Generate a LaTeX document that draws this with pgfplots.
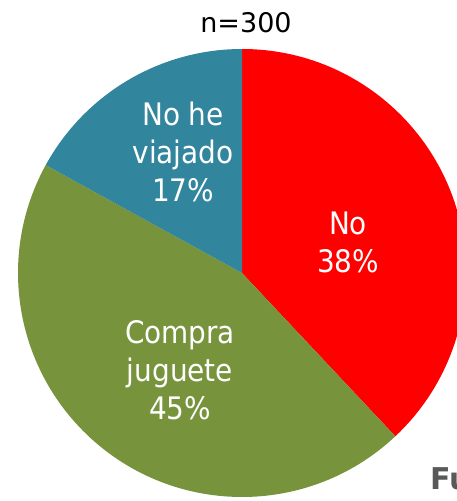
\documentclass[border=0pt]{standalone}
\usepackage{pgfplots}
\pgfplotsset{compat=1.18}
\usepackage{pgfplotstable}
\usepackage{fontspec}
\setmainfont{DejaVu Sans}
\newfontfamily\condfont{DejaVu Sans Condensed}
\definecolor{cNo}{HTML}{FF0000}
\definecolor{cCompra}{HTML}{77933C}
\definecolor{cViaje}{HTML}{31859C}
\definecolor{cFu}{HTML}{595959}
\pgfplotstableread{
label value
No 38
Compra 45
Viaje 17
}\piedata
\begin{document}
\begin{tikzpicture}
\useasboundingbox (0,0) rectangle (457pt,501pt);
\pgfplotstablegetelem{0}{value}\of\piedata \let\vA\pgfplotsretval
\pgfplotstablegetelem{1}{value}\of\piedata \let\vB\pgfplotsretval
\pgfplotstablegetelem{2}{value}\of\piedata \let\vC\pgfplotsretval
\pgfmathsetmacro{\aA}{90}
\pgfmathsetmacro{\aB}{90-3.6*\vA}
\pgfmathsetmacro{\aC}{\aB-3.6*\vB}
\pgfmathsetmacro{\aD}{\aC-3.6*\vC}
\begin{axis}[hide axis, scale only axis, width=457pt, height=501pt,
  xmin=0, xmax=457, ymin=0, ymax=501, anchor=south west, at={(0,0)}, clip=true]
\def\R{224pt}
\fill[cNo] (axis cs:242,228) -- ++(\aA:\R) arc[start angle=\aA, end angle=\aB, radius=\R] -- cycle;
\fill[cCompra] (axis cs:242,228) -- ++(\aB:\R) arc[start angle=\aB, end angle=\aC, radius=\R] -- cycle;
\fill[cViaje] (axis cs:242,228) -- ++(\aC:\R) arc[start angle=\aC, end angle=\aD, radius=\R] -- cycle;
\node[font=\fontsize{27}{30}\selectfont, text=black] at (axis cs:246,478) {n=300};
\node[font=\condfont\fontsize{31}{38}\selectfont, text=white, align=center] at (axis cs:183,349) {No he\\viajado\\17\%};
\node[font=\condfont\fontsize{31}{38}\selectfont, text=white, align=center] at (axis cs:348,259) {No\\38\%};
\node[font=\condfont\fontsize{31}{38}\selectfont, text=white, align=center] at (axis cs:180,131) {Compra\\juguete\\45\%};
\node[font=\bfseries\fontsize{30}{32}\selectfont, text=cFu, anchor=west, inner sep=0pt] at (axis cs:430,22) {Fu};
\end{axis}
\end{tikzpicture}
\end{document}
